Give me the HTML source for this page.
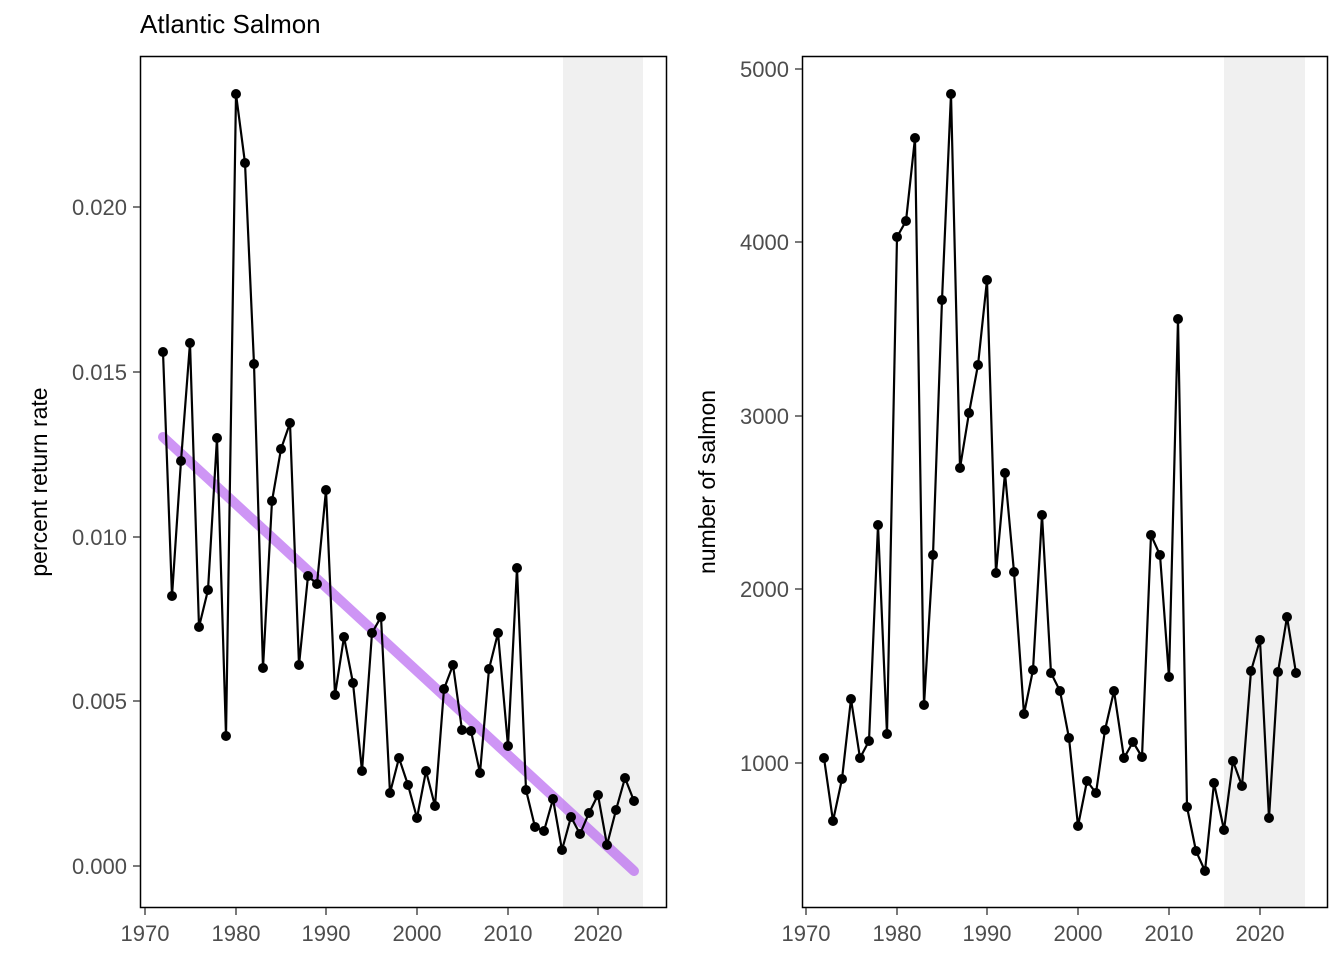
<!DOCTYPE html>
<html><head><style>body{margin:0;background:#fff}svg{display:block}</style></head><body>
<svg width="1344" height="960" xmlns="http://www.w3.org/2000/svg" font-family="Liberation Sans, sans-serif">
<rect width="1344" height="960" fill="#fff"/>
<text x="140" y="33" font-size="26" fill="#000">Atlantic Salmon</text>
<!-- left panel -->
<rect x="563" y="57" width="80" height="851" fill="#f0f0f0"/>
<line x1="163" y1="437" x2="634" y2="871" stroke="#b45cf0" stroke-opacity="0.65" stroke-width="10" stroke-linecap="round"/>
<polyline fill="none" stroke="#000" stroke-width="2.2" points="163,352 172,596 181,461 190,343 199,627 208,590 217,438 226,736 236,94 245,163 254,364 263,668 272,501 281,449 290,423 299,665 308,576 317,584 326,490 335,695 344,637 353,683 362,771 372,633 381,617 390,793 399,758 408,785 417,818 426,771 435,806 444,689 453,665 462,730 471,731 480,773 489,669 498,633 508,746 517,568 526,790 535,827 544,831 553,799 562,850 571,817 580,834 589,813 598,795 607,845 616,810 625,778 634,801"/>
<g fill="#000">
<circle cx="163" cy="352" r="5"/><circle cx="172" cy="596" r="5"/><circle cx="181" cy="461" r="5"/><circle cx="190" cy="343" r="5"/><circle cx="199" cy="627" r="5"/><circle cx="208" cy="590" r="5"/><circle cx="217" cy="438" r="5"/><circle cx="226" cy="736" r="5"/><circle cx="236" cy="94" r="5"/><circle cx="245" cy="163" r="5"/><circle cx="254" cy="364" r="5"/><circle cx="263" cy="668" r="5"/><circle cx="272" cy="501" r="5"/><circle cx="281" cy="449" r="5"/><circle cx="290" cy="423" r="5"/><circle cx="299" cy="665" r="5"/><circle cx="308" cy="576" r="5"/><circle cx="317" cy="584" r="5"/><circle cx="326" cy="490" r="5"/><circle cx="335" cy="695" r="5"/><circle cx="344" cy="637" r="5"/><circle cx="353" cy="683" r="5"/><circle cx="362" cy="771" r="5"/><circle cx="372" cy="633" r="5"/><circle cx="381" cy="617" r="5"/><circle cx="390" cy="793" r="5"/><circle cx="399" cy="758" r="5"/><circle cx="408" cy="785" r="5"/><circle cx="417" cy="818" r="5"/><circle cx="426" cy="771" r="5"/><circle cx="435" cy="806" r="5"/><circle cx="444" cy="689" r="5"/><circle cx="453" cy="665" r="5"/><circle cx="462" cy="730" r="5"/><circle cx="471" cy="731" r="5"/><circle cx="480" cy="773" r="5"/><circle cx="489" cy="669" r="5"/><circle cx="498" cy="633" r="5"/><circle cx="508" cy="746" r="5"/><circle cx="517" cy="568" r="5"/><circle cx="526" cy="790" r="5"/><circle cx="535" cy="827" r="5"/><circle cx="544" cy="831" r="5"/><circle cx="553" cy="799" r="5"/><circle cx="562" cy="850" r="5"/><circle cx="571" cy="817" r="5"/><circle cx="580" cy="834" r="5"/><circle cx="589" cy="813" r="5"/><circle cx="598" cy="795" r="5"/><circle cx="607" cy="845" r="5"/><circle cx="616" cy="810" r="5"/><circle cx="625" cy="778" r="5"/><circle cx="634" cy="801" r="5"/>
</g>
<rect x="140.5" y="56.5" width="526" height="851" fill="none" stroke="#000" stroke-width="1.5"/>
<g stroke="#333" stroke-width="1.3">
<line x1="133" y1="866" x2="140" y2="866"/><line x1="133" y1="701" x2="140" y2="701"/><line x1="133" y1="537" x2="140" y2="537"/><line x1="133" y1="372" x2="140" y2="372"/><line x1="133" y1="207" x2="140" y2="207"/>
<line x1="145" y1="908" x2="145" y2="915"/><line x1="236" y1="908" x2="236" y2="915"/><line x1="326" y1="908" x2="326" y2="915"/><line x1="417" y1="908" x2="417" y2="915"/><line x1="508" y1="908" x2="508" y2="915"/><line x1="598" y1="908" x2="598" y2="915"/>
</g>
<g font-size="22" fill="#4d4d4d" text-anchor="end">
<text x="127" y="874">0.000</text><text x="127" y="709">0.005</text><text x="127" y="545">0.010</text><text x="127" y="380">0.015</text><text x="127" y="215">0.020</text>
</g>
<g font-size="22" fill="#4d4d4d" text-anchor="middle">
<text x="145" y="941">1970</text><text x="236" y="941">1980</text><text x="326" y="941">1990</text><text x="417" y="941">2000</text><text x="508" y="941">2010</text><text x="598" y="941">2020</text>
</g>
<text transform="translate(47,482) rotate(-90)" font-size="23" text-anchor="middle" fill="#000">percent return rate</text>
<!-- right panel -->
<rect x="1224" y="57" width="81" height="851" fill="#f0f0f0"/>
<polyline fill="none" stroke="#000" stroke-width="2.2" points="824,758 833,821 842,779 851,699 860,758 869,741 878,525 887,734 897,237 906,221 915,138 924,705 933,555 942,300 951,94 960,468 969,413 978,365 987,280 996,573 1005,473 1014,572 1024,714 1033,670 1042,515 1051,673 1060,691 1069,738 1078,826 1087,781 1096,793 1105,730 1114,691 1124,758 1133,742 1142,757 1151,535 1160,555 1169,677 1178,319 1187,807 1196,851 1205,871 1214,783 1224,830 1233,761 1242,786 1251,671 1260,640 1269,818 1278,672 1287,617 1296,673"/>
<g fill="#000">
<circle cx="824" cy="758" r="5"/><circle cx="833" cy="821" r="5"/><circle cx="842" cy="779" r="5"/><circle cx="851" cy="699" r="5"/><circle cx="860" cy="758" r="5"/><circle cx="869" cy="741" r="5"/><circle cx="878" cy="525" r="5"/><circle cx="887" cy="734" r="5"/><circle cx="897" cy="237" r="5"/><circle cx="906" cy="221" r="5"/><circle cx="915" cy="138" r="5"/><circle cx="924" cy="705" r="5"/><circle cx="933" cy="555" r="5"/><circle cx="942" cy="300" r="5"/><circle cx="951" cy="94" r="5"/><circle cx="960" cy="468" r="5"/><circle cx="969" cy="413" r="5"/><circle cx="978" cy="365" r="5"/><circle cx="987" cy="280" r="5"/><circle cx="996" cy="573" r="5"/><circle cx="1005" cy="473" r="5"/><circle cx="1014" cy="572" r="5"/><circle cx="1024" cy="714" r="5"/><circle cx="1033" cy="670" r="5"/><circle cx="1042" cy="515" r="5"/><circle cx="1051" cy="673" r="5"/><circle cx="1060" cy="691" r="5"/><circle cx="1069" cy="738" r="5"/><circle cx="1078" cy="826" r="5"/><circle cx="1087" cy="781" r="5"/><circle cx="1096" cy="793" r="5"/><circle cx="1105" cy="730" r="5"/><circle cx="1114" cy="691" r="5"/><circle cx="1124" cy="758" r="5"/><circle cx="1133" cy="742" r="5"/><circle cx="1142" cy="757" r="5"/><circle cx="1151" cy="535" r="5"/><circle cx="1160" cy="555" r="5"/><circle cx="1169" cy="677" r="5"/><circle cx="1178" cy="319" r="5"/><circle cx="1187" cy="807" r="5"/><circle cx="1196" cy="851" r="5"/><circle cx="1205" cy="871" r="5"/><circle cx="1214" cy="783" r="5"/><circle cx="1224" cy="830" r="5"/><circle cx="1233" cy="761" r="5"/><circle cx="1242" cy="786" r="5"/><circle cx="1251" cy="671" r="5"/><circle cx="1260" cy="640" r="5"/><circle cx="1269" cy="818" r="5"/><circle cx="1278" cy="672" r="5"/><circle cx="1287" cy="617" r="5"/><circle cx="1296" cy="673" r="5"/>
</g>
<rect x="802.5" y="56.5" width="525" height="851" fill="none" stroke="#000" stroke-width="1.5"/>
<g stroke="#333" stroke-width="1.3">
<line x1="795" y1="763" x2="802" y2="763"/><line x1="795" y1="589" x2="802" y2="589"/><line x1="795" y1="416" x2="802" y2="416"/><line x1="795" y1="242" x2="802" y2="242"/><line x1="795" y1="69" x2="802" y2="69"/>
<line x1="806" y1="908" x2="806" y2="915"/><line x1="897" y1="908" x2="897" y2="915"/><line x1="987" y1="908" x2="987" y2="915"/><line x1="1078" y1="908" x2="1078" y2="915"/><line x1="1169" y1="908" x2="1169" y2="915"/><line x1="1260" y1="908" x2="1260" y2="915"/>
</g>
<g font-size="22" fill="#4d4d4d" text-anchor="end">
<text x="789" y="771">1000</text><text x="789" y="597">2000</text><text x="789" y="424">3000</text><text x="789" y="250">4000</text><text x="789" y="77">5000</text>
</g>
<g font-size="22" fill="#4d4d4d" text-anchor="middle">
<text x="806" y="941">1970</text><text x="897" y="941">1980</text><text x="987" y="941">1990</text><text x="1078" y="941">2000</text><text x="1169" y="941">2010</text><text x="1260" y="941">2020</text>
</g>
<text transform="translate(715,482) rotate(-90)" font-size="23" text-anchor="middle" fill="#000">number of salmon</text>
</svg>
</body></html>
